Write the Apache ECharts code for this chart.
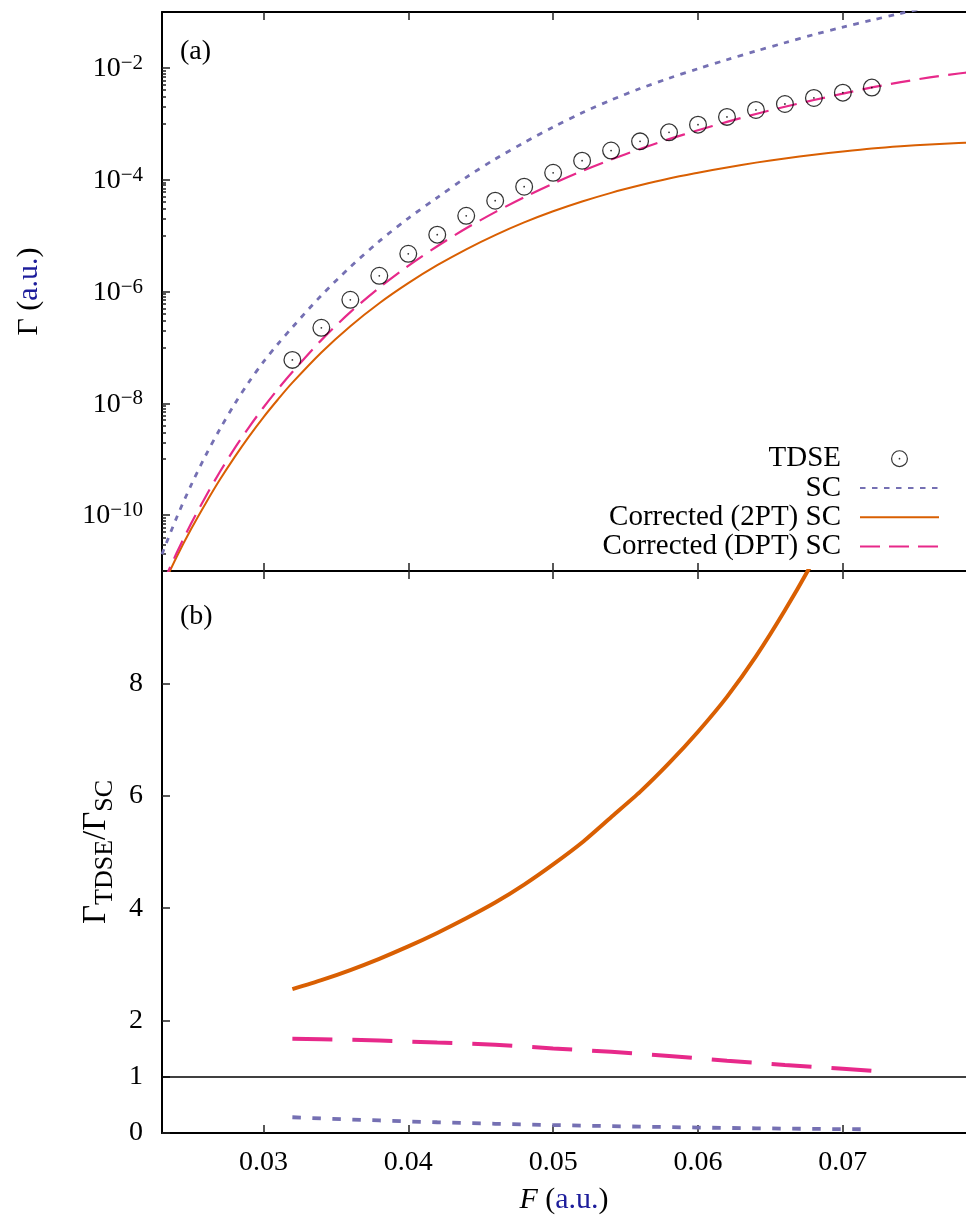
<!DOCTYPE html>
<html>
<head>
<meta charset="utf-8">
<script src="https://cdn.jsdelivr.net/npm/echarts@6/dist/echarts.min.js"></script>
<style>
  html, body { margin: 0; padding: 0; background: #fff; }
  #chart { width: 966px; height: 1223px; }
</style>
</head>
<body>
<div id="chart"></div>
<script>
// Field strengths (a.u.) at which the model rates are tabulated
const fCurve = [0.023, 0.024, 0.025, 0.026, 0.027, 0.028, 0.029, 0.030, 0.031, 0.032,
  0.034, 0.036, 0.038, 0.040, 0.042, 0.044, 0.046, 0.048, 0.050, 0.052, 0.054, 0.056,
  0.058, 0.060, 0.062, 0.064, 0.066, 0.068, 0.070, 0.072, 0.074, 0.076, 0.078, 0.079];

// Ionization rates Γ (a.u.) of the three semiclassical models
const rateSC = [2.0e-11, 8.9e-11, 3.39e-10, 1.15e-9, 3.47e-9, 9.55e-9, 2.40e-8, 5.50e-8, 1.15e-7, 2.29e-7,
  8.51e-7, 2.75e-6, 7.94e-6, 2.04e-5, 4.79e-5, 1.10e-4, 2.34e-4, 4.62e-4, 8.71e-4, 1.57e-3, 2.66e-3, 4.27e-3,
  6.53e-3, 9.66e-3, 1.40e-2, 2.00e-2, 2.82e-2, 3.94e-2, 5.37e-2, 7.16e-2, 9.44e-2, 0.123, 0.158, 0.178];
const rate2PT = [5.0e-12, 1.76e-11, 5.56e-11, 1.60e-10, 4.32e-10, 1.08e-9, 2.54e-9, 5.62e-9, 1.17e-8, 2.34e-8,
  8.13e-8, 2.40e-7, 6.17e-7, 1.41e-6, 2.95e-6, 5.69e-6, 1.02e-5, 1.72e-5, 2.72e-5, 4.07e-5, 5.82e-5, 7.94e-5,
  1.05e-4, 1.33e-4, 1.66e-4, 2.02e-4, 2.40e-4, 2.80e-4, 3.21e-4, 3.63e-4, 3.98e-4, 4.27e-4, 4.52e-4, 4.62e-4];
const rateDPT = [5.6e-12, 2.07e-11, 7.0e-11, 2.11e-10, 5.96e-10, 1.55e-9, 3.72e-9, 8.41e-9, 1.79e-8, 3.63e-8,
  1.35e-7, 4.27e-7, 1.17e-6, 2.88e-6, 6.46e-6, 1.35e-5, 2.63e-5, 4.84e-5, 8.51e-5, 1.43e-4, 2.29e-4, 3.55e-4,
  5.31e-4, 7.67e-4, 1.08e-3, 1.50e-3, 2.02e-3, 2.66e-3, 3.47e-3, 4.47e-3, 5.56e-3, 6.76e-3, 7.94e-3, 8.51e-3];

// TDSE reference points
const fTDSE = [0.032, 0.034, 0.036, 0.038, 0.040, 0.042, 0.044, 0.046, 0.048, 0.050, 0.052,
  0.054, 0.056, 0.058, 0.060, 0.062, 0.064, 0.066, 0.068, 0.070, 0.072];
const rateTDSE = [5.98e-8, 2.24e-7, 7.10e-7, 1.91e-6, 4.73e-6, 1.04e-5, 2.26e-5, 4.21e-5, 7.50e-5, 1.33e-4, 2.19e-4,
  3.32e-4, 4.85e-4, 7.03e-4, 9.66e-4, 1.33e-3, 1.77e-3, 2.26e-3, 2.90e-3, 3.61e-3, 4.44e-3];

// Γ_TDSE / Γ_SC for each model
const ratioSC = [0.280, 0.260, 0.241, 0.223, 0.206, 0.191, 0.177, 0.164, 0.152, 0.141, 0.131,
  0.122, 0.113, 0.105, 0.097, 0.090, 0.084, 0.078, 0.073, 0.069, 0.065];
const ratio2PT = [2.56, 2.72, 2.90, 3.10, 3.32, 3.56, 3.82, 4.10, 4.42, 4.78, 5.17,
  5.62, 6.07, 6.58, 7.14, 7.76, 8.48, 9.30, 10.2, 11.2, 12.3];
const ratioDPT = [1.675, 1.668, 1.658, 1.645, 1.628, 1.610, 1.593, 1.572, 1.540, 1.505, 1.475,
  1.445, 1.408, 1.370, 1.328, 1.284, 1.248, 1.212, 1.177, 1.142, 1.105];

// Axis ticks
const xTicks = [0.03, 0.04, 0.05, 0.06, 0.07];
const rateMajorTicks = [1e-10, 1e-8, 1e-6, 1e-4, 1e-2];
const rateMinorDecades = [1e-11, 1e-9, 1e-7, 1e-5, 1e-3];
const rateMinorSteps = [1, 2, 3, 4, 5, 6, 7, 8, 9];
const ratioTicks = [0, 1, 2, 4, 6, 8, 10];
const ratioLabels = [0, 1, 2, 4, 6, 8];

const SERIF = '"Liberation Serif", "DejaVu Serif", serif';
const BLUE = '#1d1d9b';
const C_SC = '#7570b3', C_2PT = '#d95f02', C_DPT = '#e7298a';

const zip = (xs, ys) => xs.map((x, i) => [x, ys[i]]);
const rateMinorTicks = [];
rateMinorDecades.forEach(d => rateMinorSteps.forEach(k => rateMinorTicks.push(k * d)));

// circle with a centre dot (⊙)
const ODOT = 'path://M50 0A50 50 0 1 1 50 100A50 50 0 1 1 50 0Z' +
  'M50 7A43 43 0 1 0 50 93A43 43 0 1 0 50 7Z' +
  'M50 45A5 5 0 1 1 50 55A5 5 0 1 1 50 45Z';

// legend: line samples only, no marker on the line entries
const hiddenMarker = { opacity: 0 };
const legendData = [
  { name: 'TDSE' },
  { name: 'SC', itemStyle: hiddenMarker },
  { name: 'Corrected (2PT) SC', itemStyle: hiddenMarker },
  { name: 'Corrected (DPT) SC', itemStyle: hiddenMarker }
];

const X_MIN = 0.023, X_MAX = 0.0785;
const GRID_W = 807.5;

const axisLine = { show: true, onZero: false, lineStyle: { color: '#000', width: 2 } };
const tickStyle = { color: '#222', width: 1.5 };

function xAxis(gridIndex, position, labels) {
  const ax = {
    type: 'value', gridIndex, position, min: X_MIN, max: X_MAX,
    axisLine,
    axisTick: { show: true, inside: true, length: 8, customValues: xTicks, lineStyle: tickStyle },
    axisLabel: { show: false },
    splitLine: { show: false }
  };
  if (labels) {
    ax.axisLabel = {
      show: true, customValues: xTicks, margin: 16,
      fontFamily: SERIF, fontSize: 28, color: '#000',
      formatter: v => v.toFixed(2)
    };
    ax.name = '{i|F} {p|(}{b|a.u.}{p|)}';
    ax.nameLocation = 'middle';
    ax.nameGap = 52;
    ax.nameTextStyle = {
      fontFamily: SERIF, fontSize: 30, color: '#000', verticalAlign: 'top',
      rich: {
        i: { fontFamily: SERIF, fontSize: 30, color: '#000', fontStyle: 'italic' },
        p: { fontFamily: SERIF, fontSize: 30, color: '#000' },
        b: { fontFamily: SERIF, fontSize: 30, color: BLUE }
      }
    };
  }
  return ax;
}

const supRich = {
  b: { fontFamily: SERIF, fontSize: 28, color: '#000', lineHeight: 30, padding: [3, 0, 0, 0], verticalAlign: 'bottom' },
  s: { fontFamily: SERIF, fontSize: 21, color: '#000', lineHeight: 22, verticalAlign: 'top' }
};

const option = {
  animation: false,
  backgroundColor: '#fff',
  grid: [
    { left: 162, top: 12, width: GRID_W, height: 559 },
    { left: 162, top: 571, width: GRID_W, height: 562 }
  ],
  xAxis: [
    xAxis(0, 'bottom', false),
    xAxis(0, 'top', false),
    xAxis(1, 'top', false),
    xAxis(1, 'bottom', true)
  ],
  yAxis: [
    {
      type: 'log', logBase: 10, gridIndex: 0, position: 'left', min: 1e-11, max: 1e-1,
      axisLine,
      axisTick: { show: true, inside: true, length: 8, customValues: rateMajorTicks, lineStyle: tickStyle },
      axisLabel: {
        show: true, customValues: rateMajorTicks, margin: 19,
        formatter: v => '{b|10}{s|−' + Math.round(-Math.log10(v)) + '}',
        rich: supRich
      },
      splitLine: { show: false },
      minorTick: { show: false },
      name: '{g|Γ} {p|(}{b|a.u.}{p|)}',
      nameLocation: 'middle', nameRotate: 90, nameGap: 118,
      nameTextStyle: {
        fontFamily: SERIF, fontSize: 30, color: '#000',
        rich: {
          g: { fontFamily: SERIF, fontSize: 30, color: '#000' },
          p: { fontFamily: SERIF, fontSize: 30, color: '#000' },
          b: { fontFamily: SERIF, fontSize: 30, color: BLUE }
        }
      }
    },
    {
      type: 'log', logBase: 10, gridIndex: 0, position: 'left', offset: 0, min: 1e-11, max: 1e-1,
      axisLine: { show: false },
      axisTick: { show: true, inside: true, length: 4, customValues: rateMinorTicks, lineStyle: tickStyle },
      axisLabel: { show: false },
      splitLine: { show: false }
    },
    {
      type: 'value', gridIndex: 1, position: 'left', min: 0, max: 10,
      axisLine,
      axisTick: { show: true, inside: true, length: 8, customValues: ratioTicks, lineStyle: tickStyle },
      axisLabel: {
        show: true, customValues: ratioLabels, margin: 19,
        fontFamily: SERIF, fontSize: 28, color: '#000'
      },
      splitLine: { show: false },
      name: '{g|Γ}{s|TDSE}{g|/Γ}{s|SC}',
      nameLocation: 'middle', nameRotate: 90, nameGap: 41,
      nameTextStyle: {
        fontFamily: SERIF, fontSize: 33, color: '#000',
        rich: {
          g: { fontFamily: SERIF, fontSize: 33, color: '#000', lineHeight: 38, padding: [0, 0, 5, 0], verticalAlign: 'top' },
          s: { fontFamily: SERIF, fontSize: 26, color: '#000', lineHeight: 28, verticalAlign: 'bottom' }
        }
      }
    }
  ],
  legend: {
    orient: 'vertical', align: 'right', right: 26, top: 444, padding: 0, itemGap: 0,
    itemWidth: 79, itemHeight: 17, selectedMode: false,
    data: legendData,
    textStyle: { fontFamily: SERIF, fontSize: 29, color: '#000', lineHeight: 29.3, padding: [0, 14, 0, 0] }
  },
  graphic: [
    { type: 'text', x: 180, y: 52, style: { text: '(a)', font: '28px ' + SERIF, fill: '#000', verticalAlign: 'middle' } },
    { type: 'text', x: 180, y: 617, style: { text: '(b)', font: '28px ' + SERIF, fill: '#000', verticalAlign: 'middle' } }
  ],
  series: [
    {
      name: 'TDSE', type: 'scatter', xAxisIndex: 0, yAxisIndex: 0, z: 5,
      symbol: ODOT, symbolSize: 18, itemStyle: { color: '#000' },
      data: zip(fTDSE, rateTDSE)
    },
    {
      name: 'SC', type: 'line', xAxisIndex: 0, yAxisIndex: 0, symbol: 'none', smooth: 0.3,
      itemStyle: { color: C_SC },
      lineStyle: { color: C_SC, width: 2.8, type: [5.5, 6.5] },
      data: zip(fCurve, rateSC)
    },
    {
      name: 'Corrected (2PT) SC', type: 'line', xAxisIndex: 0, yAxisIndex: 0, symbol: 'none', smooth: 0.3,
      itemStyle: { color: C_2PT },
      lineStyle: { color: C_2PT, width: 2 },
      data: zip(fCurve, rate2PT)
    },
    {
      name: 'Corrected (DPT) SC', type: 'line', xAxisIndex: 0, yAxisIndex: 0, symbol: 'none', smooth: 0.3,
      itemStyle: { color: C_DPT },
      lineStyle: { color: C_DPT, width: 2.2, type: [20, 9] },
      data: zip(fCurve, rateDPT)
    },
    {
      name: 'ratio SC', type: 'line', xAxisIndex: 3, yAxisIndex: 2, symbol: 'none',
      lineStyle: { color: C_SC, width: 3.8, type: [8.5, 11.5] },
      data: zip(fTDSE, ratioSC)
    },
    {
      name: 'ratio 2PT', type: 'line', xAxisIndex: 3, yAxisIndex: 2, symbol: 'none', smooth: 0.2,
      lineStyle: { color: C_2PT, width: 4 },
      data: zip(fTDSE, ratio2PT),
      markLine: {
        silent: true, symbol: ['none', 'none'], label: { show: false },
        lineStyle: { color: '#000', width: 1.5, type: 'solid' },
        data: [{ yAxis: 1 }]
      }
    },
    {
      name: 'ratio DPT', type: 'line', xAxisIndex: 3, yAxisIndex: 2, symbol: 'none',
      lineStyle: { color: C_DPT, width: 4, type: [40, 20] },
      data: zip(fTDSE, ratioDPT)
    }
  ]
};

const chart = echarts.init(document.getElementById('chart'), null, { renderer: 'canvas' });
chart.setOption(option);
</script>
</body>
</html>
